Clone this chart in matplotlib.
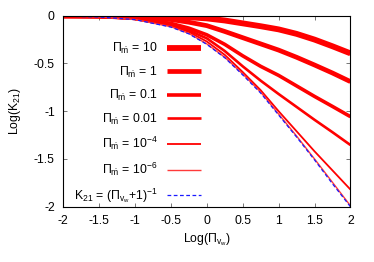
import numpy as np
import matplotlib
matplotlib.use('Agg')
import matplotlib.pyplot as plt

plt.rcParams['font.family'] = ['Liberation Sans', 'DejaVu Sans']
plt.rcParams['mathtext.fontset'] = 'custom'
plt.rcParams['mathtext.rm'] = 'Liberation Sans'
plt.rcParams['mathtext.it'] = 'Liberation Sans'
plt.rcParams['mathtext.bf'] = 'Liberation Sans:bold'

#### values ####
log_pvw = [-2, -1.5, -1, -0.5, -0.25, 0, 0.25, 0.5, 0.75, 1, 1.25, 1.5, 1.75, 2]

k_pm10   = [0, 0, -0.002, -0.008, -0.016, -0.028, -0.05, -0.08, -0.11, -0.143, -0.19, -0.25, -0.32, -0.394]
k_pm1    = [-0.001, -0.004, -0.012, -0.04, -0.068, -0.104, -0.165, -0.23, -0.295, -0.36, -0.435, -0.516, -0.60, -0.69]
k_pm01   = [-0.003, -0.009, -0.027, -0.08, -0.13, -0.20, -0.30, -0.42, -0.53, -0.625, -0.735, -0.845, -0.95, -1.057]
k_pm001  = [-0.003, -0.011, -0.033, -0.095, -0.155, -0.237, -0.37, -0.53, -0.68, -0.82, -0.955, -1.09, -1.22, -1.354]
k_pm1e4  = [-0.004, -0.012, -0.037, -0.105, -0.17, -0.27, -0.41, -0.59, -0.78, -1.0, -1.21, -1.42, -1.62, -1.82]
k_pm1e6  = [-0.004, -0.013, -0.04, -0.115, -0.185, -0.295, -0.435, -0.61, -0.80, -1.03, -1.26, -1.50, -1.745, -1.99]
k_simple = [-0.004, -0.013, -0.041, -0.119, -0.19, -0.30, -0.44, -0.62, -0.81, -1.04, -1.27, -1.51, -1.76, -2.0]

labels = [r'$\Pi_{\dot{\rm m}}$ = 10', r'$\Pi_{\dot{\rm m}}$ = 1', r'$\Pi_{\dot{\rm m}}$ = 0.1',
          r'$\Pi_{\dot{\rm m}}$ = 0.01', r'$\Pi_{\dot{\rm m}}$ = 10$^{-4}$', r'$\Pi_{\dot{\rm m}}$ = 10$^{-6}$',
          r'K$_{21}$ = ($\Pi_{\rm v_w}$+1)$^{-1}$']

curves = [k_pm10, k_pm1, k_pm01, k_pm001, k_pm1e4, k_pm1e6]
widths = [4.2, 3.4, 2.6, 1.9, 1.3, 1.0]
colors = ['#ff0000'] * 5 + ['#ff3a3a']
fs = 8.8

fig = plt.figure(figsize=(3.74, 2.62), dpi=100)
ax = fig.add_axes([0.169, 0.211, 0.768, 0.729])

for k, lw, c, lab in zip(curves, widths, colors, labels[:6]):
    ax.plot(log_pvw, k, color=c, lw=lw, label=lab, solid_capstyle='butt')
ax.plot(log_pvw, k_simple, color='#1a1aff', lw=0.9, ls=(0, (3, 2)), label=labels[6])

ax.set_xlim(-2, 2)
ax.set_ylim(-2, 0)
ax.set_xticks(np.arange(-2, 2.01, 0.5))
ax.set_yticks(np.arange(-2, 0.01, 0.5))
ax.set_xticklabels(['-2', '-1.5', '-1', '-0.5', '0', '0.5', '1', '1.5', '2'])
ax.set_yticklabels(['-2', '-1.5', '-1', '-0.5', '0'])
ax.tick_params(direction='in', top=True, right=True, length=3, width=0.6,
               color='#606060', labelsize=fs, pad=6)
for s in ax.spines.values():
    s.set_linewidth(0.8)

ax.set_xlabel(r'Log($\Pi_{\rm v_w}$)', fontsize=fs, labelpad=3)
ax.set_ylabel(r'Log(K$_{21}$)', fontsize=fs, labelpad=8)

ax.legend(loc='upper right', bbox_to_anchor=(0.48, 0.868), markerfirst=False, frameon=False,
          fontsize=fs, handlelength=2.8, handletextpad=0.75, labelspacing=0.69,
          borderpad=0, borderaxespad=0)

fig.savefig('out.png', dpi=100)
